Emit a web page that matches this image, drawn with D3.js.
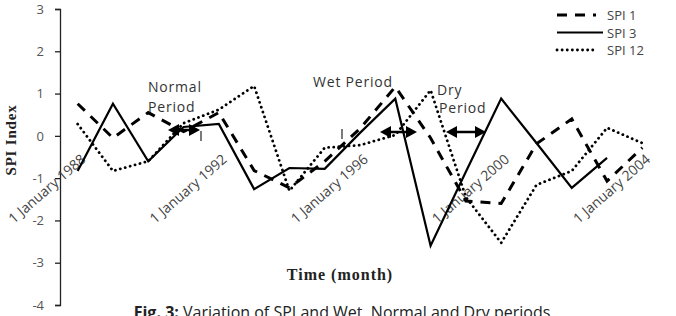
<!DOCTYPE html>
<html>
<head>
<meta charset="utf-8">
<script src="https://cdn.jsdelivr.net/npm/d3@7"></script>
<style>
  body { margin: 0; background: #fff; }
  svg { display: block; }
  text { font-family: "Open Sans", "Liberation Sans", sans-serif; fill: #404040; }
</style>
</head>
<body>
<div class="root"></div>
<script>
var width = 676,
    height = 316;

// data
var years = ["1988", "1989", "1990", "1991", "1992", "1993", "1994", "1995", "1996",
             "1997", "1998", "1999", "2000", "2001", "2002", "2003", "2004"];
var labelYears = ["1988", "1992", "1996", "2000", "2004"];
var spi1  = [0.76, -0.05, 0.55, 0.10, 0.55, -0.82, -1.23, -0.6, 0.17, 1.16, -0.05, -1.54, -1.6, -0.19, 0.40, -1.07, -0.28];
var spi3  = [-0.83, 0.76, -0.6, 0.21, 0.28, -1.26, -0.76, -0.78, 0.07, 0.88, -2.6, -0.85, 0.88, -0.17, -1.23, -0.52, null];
var spi12 = [0.28, -0.83, -0.6, 0.3, 0.62, 1.18, -1.3, -0.28, -0.22, 0.02, 1.08, -1.45, -2.53, -1.16, -0.83, 0.19, -0.17];
var yTicks = [3, 2, 1, 0, -1, -2, -3, -4];
var seriesNames = ["SPI 1", "SPI 3", "SPI 12"];

var svg = d3.select(".root")
  .append("svg")
  .attr("width", width)
  .attr("height", height);

var x = d3.scalePoint()
  .domain(years)
  .range([60, 660])
  .padding(0.5);

var y = d3.scaleLinear()
  .domain([-4, 3])
  .range([305, 9]);

// y axis
var yAxis = svg.append("g")
  .attr("transform", "translate(60,0)")
  .call(d3.axisLeft(y).tickValues(yTicks).tickSize(5).tickPadding(11).tickFormat(d => String(d)));
yAxis.select(".domain").attr("stroke", "#222").attr("stroke-width", 1.3);
yAxis.selectAll(".tick line").attr("stroke", "#222").attr("stroke-width", 1.3);
yAxis.selectAll(".tick text")
  .style("font-size", "13px")
  .style("fill", "#555")
  .style("font-family", "'Open Sans', sans-serif");

// category labels, rotated
svg.append("g").selectAll("text")
  .data(labelYears)
  .enter().append("text")
  .attr("transform", d => "translate(" + (x(d) + 9) + "," + (y(0) + 25) + ") rotate(-41)")
  .attr("text-anchor", "end")
  .style("font-size", "14px")
  .style("fill", "#444")
  .text(d => "1 January " + d);

// series
var styles = [
  { data: spi1, dash: "10,8", w: 3, cap: "butt" },
  { data: spi3, dash: null, w: 2.2, cap: "butt" },
  { data: spi12, dash: "0.1,5", w: 2.8, cap: "round" }
];

var line = d3.line()
  .defined(d => d[1] != null)
  .x(d => x(d[0]))
  .y(d => y(d[1]));

styles.forEach(s => {
  svg.append("path")
    .datum(years.map((yr, i) => [yr, s.data[i]]))
    .attr("d", line)
    .attr("fill", "none")
    .attr("stroke", "#000")
    .attr("stroke-width", s.w)
    .attr("stroke-linecap", s.cap)
    .attr("stroke-linejoin", "miter")
    .attr("stroke-dasharray", s.dash);
});

// period annotations
function dblArrow(x1, x2, yy) {
  var g = svg.append("g");
  g.append("line")
    .attr("x1", x1 + 6).attr("x2", x2 - 6)
    .attr("y1", yy).attr("y2", yy)
    .attr("stroke", "#000").attr("stroke-width", 2.5);
  g.append("path")
    .attr("d", "M" + x1 + "," + yy + " L" + (x1 + 11) + "," + (yy - 6) + " L" + (x1 + 11) + "," + (yy + 6) + "Z")
    .attr("fill", "#000");
  g.append("path")
    .attr("d", "M" + x2 + "," + yy + " L" + (x2 - 11) + "," + (yy - 6) + " L" + (x2 - 11) + "," + (yy + 6) + "Z")
    .attr("fill", "#000");
}
dblArrow(168, 200, 130);
dblArrow(380, 417, 132);
dblArrow(446, 486, 132);

svg.append("line").attr("x1", 201).attr("x2", 201).attr("y1", 131).attr("y2", 141).attr("stroke", "#222").attr("stroke-width", 1.2);
svg.append("line").attr("x1", 342).attr("x2", 342).attr("y1", 129).attr("y2", 139).attr("stroke", "#222").attr("stroke-width", 1.2);

var notes = [
  { t: "Normal", x: 148, y: 92 },
  { t: "Period", x: 148, y: 112 },
  { t: "Wet Period", x: 313, y: 87 },
  { t: "Dry", x: 437, y: 95 },
  { t: "Period", x: 439, y: 113 }
];
svg.append("g").selectAll("text")
  .data(notes)
  .enter().append("text")
  .attr("x", d => d.x)
  .attr("y", d => d.y)
  .style("font-size", "14px")
  .style("letter-spacing", "0.8px")
  .style("fill", "#333")
  .text(d => d.t);

// legend
var legend = svg.append("g");
seriesNames.forEach((n, i) => {
  var s = styles[i];
  var ly = 15 + i * 17.5;
  legend.append("line")
    .attr("x1", 557).attr("x2", i == 1 ? 603 : 596)
    .attr("y1", ly).attr("y2", ly)
    .attr("stroke", "#000")
    .attr("stroke-width", s.w)
    .attr("stroke-linecap", s.cap)
    .attr("stroke-dasharray", s.dash);
  legend.append("text")
    .attr("x", 607)
    .attr("y", ly + 5)
    .style("font-size", "13px")
    .style("fill", "#444")
    .text(n);
});

// axis titles
svg.append("text")
  .attr("transform", "translate(16,140) rotate(-90)")
  .attr("text-anchor", "middle")
  .style("font-family", "'Liberation Serif', 'DejaVu Serif', serif")
  .style("font-weight", "bold")
  .style("font-size", "15px")
  .style("letter-spacing", "0.8px")
  .style("fill", "#222")
  .text("SPI Index");

svg.append("text")
  .attr("x", 340)
  .attr("y", 280)
  .attr("text-anchor", "middle")
  .style("font-family", "'Liberation Serif', 'DejaVu Serif', serif")
  .style("font-weight", "bold")
  .style("font-size", "16px")
  .style("letter-spacing", "1px")
  .style("fill", "#222")
  .text("Time (month)");

// caption, cut off at the bottom edge as in the original
var cap = svg.append("text")
  .attr("x", 342)
  .attr("y", 318)
  .attr("text-anchor", "middle")
  .style("font-size", "16px")
  .style("fill", "#222");
cap.append("tspan").style("font-weight", "bold").text("Fig. 3: ");
cap.append("tspan").text("Variation of SPI and Wet, Normal and Dry periods");
</script>
</body>
</html>
